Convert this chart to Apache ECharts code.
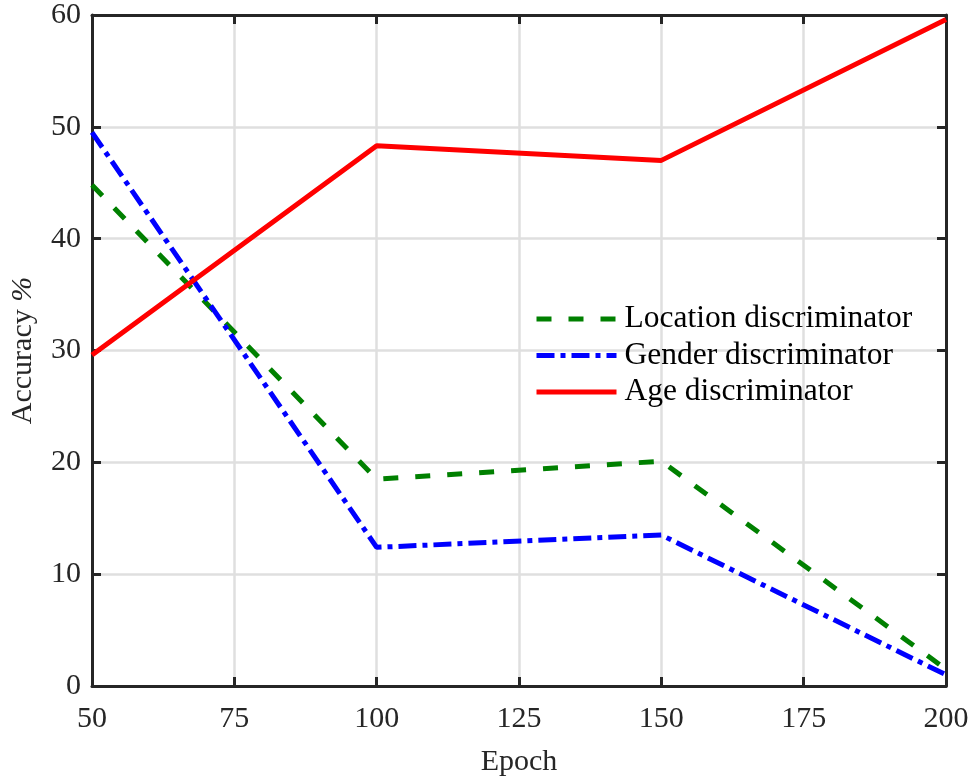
<!DOCTYPE html>
<html>
<head>
<meta charset="utf-8">
<script src="https://cdn.jsdelivr.net/npm/echarts@6/dist/echarts.min.js"></script>
<style>
  html, body { margin: 0; padding: 0; background: #fff; }
  #chart { width: 975px; height: 780px; }
</style>
</head>
<body>
<div id="chart"></div>
<script>
// epochs and accuracy (%)
var epochs = [50, 100, 150, 200];
var location_acc = [44.8, 18.5, 20.1, 1.5];
var gender_acc = [49.5, 12.4, 13.5, 1.0];
var age_acc = [29.6, 48.3, 47.0, 59.6];

var xTicks = [50, 75, 100, 125, 150, 175, 200];
var yTicks = [0, 10, 20, 30, 40, 50, 60];

function pairs(xs, ys) {
  return xs.map(function (x, i) { return [x, ys[i]]; });
}

var font = 'Liberation Serif, Times New Roman, serif';
var ink = '#262626';

var chart = echarts.init(document.getElementById('chart'));

// inner ticks, box on all four sides like MATLAB
function boxAxis(pos, isX, main) {
  var ax = {
    type: 'value',
    position: pos,
    min: isX ? xTicks[0] : yTicks[0],
    max: isX ? xTicks[xTicks.length - 1] : yTicks[yTicks.length - 1],
    interval: isX ? 25 : 10,
    axisLine: { show: true, onZero: false, lineStyle: { color: ink, width: 3 } },
    axisTick: { show: true, inside: true, length: 9, lineStyle: { color: ink, width: 3 } },
    axisLabel: { show: main, color: ink, fontFamily: font, fontSize: 30, margin: isX ? 18 : 11 },
    splitLine: { show: main, lineStyle: { color: '#dfdfdf', width: 2.5 } }
  };
  if (main) {
    ax.name = isX ? 'Epoch' : 'Accuracy {i|%}';
    ax.nameLocation = 'middle';
    ax.nameGap = isX ? 61 : 54;
    ax.nameTextStyle = {
      color: ink, fontFamily: font, fontSize: 30,
      rich: { i: { fontFamily: font, fontSize: 30, fontStyle: 'italic', color: ink } }
    };
  }
  return ax;
}

var option = {
  backgroundColor: '#fff',
  animation: false,
  grid: { left: 92, right: 29, top: 15, bottom: 94, containLabel: false, outerBoundsMode: 'none' },
  xAxis: [boxAxis('bottom', true, true), boxAxis('top', true, false)],
  yAxis: [boxAxis('left', false, true), boxAxis('right', false, false)],
  legend: {
    orient: 'vertical',
    left: 529,
    top: 298,
    itemWidth: 80,
    itemHeight: 14,
    itemGap: 4.5,
    itemStyle: { opacity: 0 },
    lineStyle: { width: 5 },
    textStyle: { color: '#000', fontFamily: font, fontSize: 31.5, lineHeight: 32, padding: [0, 0, 0, 3] },
    data: ['Location discriminator', 'Gender discriminator', 'Age discriminator']
  },
  series: [
    {
      name: 'Location discriminator',
      type: 'line',
      data: pairs(epochs, location_acc),
      symbol: 'none',
      z: 3,
      color: '#008000',
      lineStyle: { color: '#008000', width: 5, type: [15, 17] }
    },
    {
      name: 'Gender discriminator',
      type: 'line',
      data: pairs(epochs, gender_acc),
      symbol: 'none',
      z: 4,
      color: '#0000ff',
      lineStyle: { color: '#0000ff', width: 5, type: [18, 6, 5, 6] }
    },
    {
      name: 'Age discriminator',
      type: 'line',
      data: pairs(epochs, age_acc),
      symbol: 'none',
      z: 5,
      color: '#ff0000',
      lineStyle: { color: '#ff0000', width: 5 }
    }
  ]
};

chart.setOption(option);
</script>
</body>
</html>
